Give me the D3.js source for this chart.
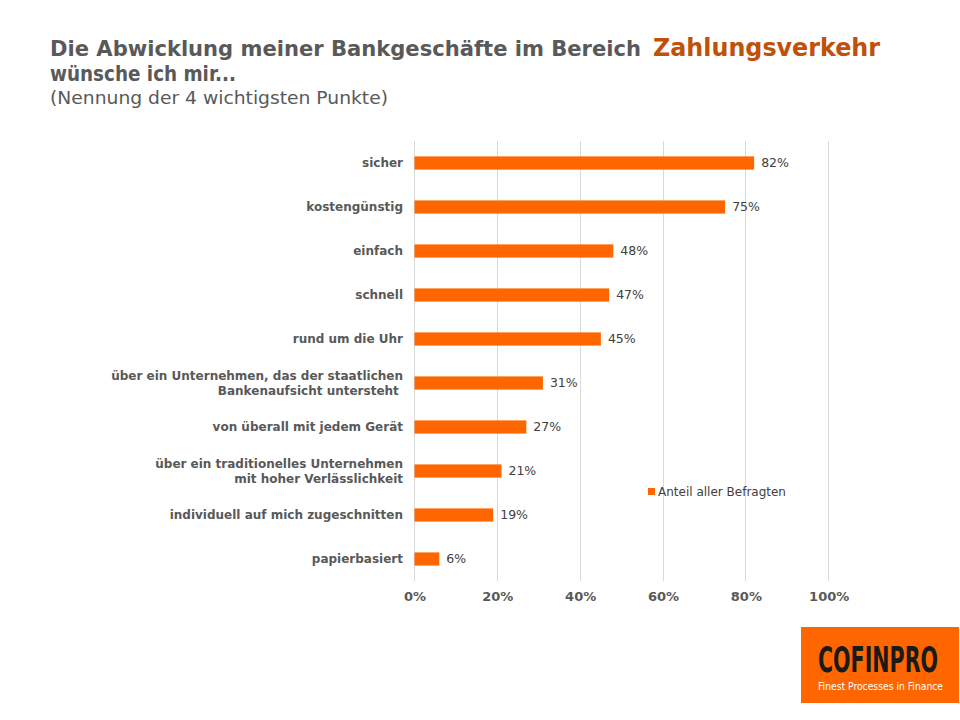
<!DOCTYPE html>
<html><head><meta charset="utf-8">
<script src="https://cdn.jsdelivr.net/npm/d3@7"></script>
<style>body{margin:0;background:#fff;}svg{display:block;}</style>
</head><body>
<svg id="c" width="960" height="720"></svg>
<script>
const categories = ["sicher","kostengünstig","einfach","schnell","rund um die Uhr",
  "über ein Unternehmen, das der staatlichen|Bankenaufsicht untersteht ",
  "von überall mit jedem Gerät",
  "über ein traditionelles Unternehmen|mit hoher Verlässlichkeit",
  "individuell auf mich zugeschnitten","papierbasiert"];
const values = [82,75,48,47,45,31,27,21,19,6];
const ticks = [0,20,40,60,80,100];
const seriesName = "Anteil aller Befragten";

const svg = d3.select("#c");
const x = d3.scaleLinear().domain([0,100]).range([414.5,828.7]);
const y = d3.scaleBand().domain(categories).range([141,581]).paddingInner(0.7).paddingOuter(0.35);
const gray = "#595959";
const orange = "#FF6600";
const F = "DejaVu Sans";
const FC = "DejaVu Sans Condensed, DejaVu Sans";

// title
svg.append("text").attr("x",50).attr("y",56).attr("font-family",FC).attr("font-weight","bold").attr("fill",gray).attr("font-size",22)
  .attr("textLength",591).attr("lengthAdjust","spacingAndGlyphs").text("Die Abwicklung meiner Bankgeschäfte im Bereich");
svg.append("text").attr("x",653).attr("y",56).attr("font-family",FC).attr("font-weight","bold").attr("fill","#C0500A").attr("font-size",25)
  .attr("textLength",227).attr("lengthAdjust","spacingAndGlyphs").text("Zahlungsverkehr");
svg.append("text").attr("x",50).attr("y",81).attr("font-family",FC).attr("font-weight","bold").attr("fill",gray).attr("font-size",22)
  .attr("textLength",186).attr("lengthAdjust","spacingAndGlyphs").text("wünsche ich mir...");
svg.append("text").attr("x",50).attr("y",104).attr("font-family",FC).attr("fill",gray).attr("font-size",18.5)
  .attr("textLength",338).attr("lengthAdjust","spacingAndGlyphs").text("(Nennung der 4 wichtigsten Punkte)");

// grid
svg.append("g").selectAll("line").data(ticks).join("line")
  .attr("x1",d=>x(d)).attr("x2",d=>x(d)).attr("y1",141).attr("y2",581)
  .attr("stroke","#d9d9d9").attr("stroke-width",1).attr("shape-rendering","crispEdges");

// x axis
const xa = svg.append("g").attr("transform","translate(0,581)")
  .call(d3.axisBottom(x).tickValues(ticks).tickFormat(d=>d+"%").tickSize(0).tickPadding(11));
xa.select(".domain").remove();
xa.selectAll("text").attr("font-family",F).attr("font-weight","bold").attr("font-size",13).attr("fill",gray);

// bars
svg.append("g").selectAll("rect").data(values).join("rect")
  .attr("x",x(0)).attr("y",(d,i)=>y(categories[i])).attr("width",d=>x(d)-x(0)).attr("height",y.bandwidth()).attr("fill",orange);

// value labels
svg.append("g").selectAll("text").data(values).join("text")
  .attr("x",d=>x(d)+7).attr("y",(d,i)=>y(categories[i])+y.bandwidth()/2).attr("dy","0.35em")
  .attr("font-family",F).attr("font-size",12.5).attr("fill","#404040").text(d=>d+"%");

// category labels
const cl = svg.append("g").selectAll("text").data(categories).join("text")
  .attr("x",403).attr("y",d=>y(d)+y.bandwidth()/2).attr("text-anchor","end")
  .attr("font-family",F).attr("font-weight","bold").attr("font-size",12).attr("fill",gray);
cl.each(function(d){
  const parts=d.split("|"); const s=d3.select(this);
  parts.forEach((p,j)=>{
    s.append("tspan").attr("x",403).attr("dy", j===0 ? (parts.length===1? "0.35em" : "-0.28em") : "1.25em").attr("xml:space","preserve").text(p);
  });
});

// legend
svg.append("rect").attr("x",648).attr("y",488).attr("width",7).attr("height",7).attr("fill",orange);
svg.append("text").attr("x",658).attr("y",496).attr("font-family",F).attr("font-size",12).attr("fill","#404040").text(seriesName);

// logo
svg.append("rect").attr("x",801).attr("y",627).attr("width",158).attr("height",76).attr("fill","#FF6600");
svg.append("text").attr("transform","translate(818,672) scale(1,1.5)").attr("font-family",FC).attr("font-weight","bold").attr("font-size",24).attr("fill","#1a1a1a").attr("textLength",120).attr("lengthAdjust","spacingAndGlyphs").text("COFINPRO");
svg.append("text").attr("x",818).attr("y",690).attr("font-family",FC).attr("font-size",10).attr("fill","#fff").attr("textLength",125).attr("lengthAdjust","spacingAndGlyphs").text("Finest Processes in Finance");
</script>
</body></html>
